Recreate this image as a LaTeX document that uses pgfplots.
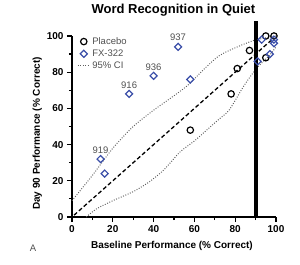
\documentclass[border=0pt]{standalone}
\usepackage{pgfplots}
\pgfplotsset{compat=1.18}
\usepackage{fontspec}
\setmainfont{Liberation Sans}
\definecolor{fxblue}{RGB}{58,78,168}
\definecolor{cigray}{RGB}{95,95,95}
\definecolor{lblgray}{RGB}{80,80,80}
\pgfplotsset{
 markleg/.style={legend image code/.code={\draw[mark repeat=2,mark phase=2,##1] plot coordinates {(0pt,0pt)(6pt,0pt)(12pt,0pt)};}},
 lineleg/.style={legend image code/.code={\draw[##1] (0pt,0pt) -- (12pt,0pt);}},
}
\begin{document}
\begin{tikzpicture}
\useasboundingbox (-72pt,-48pt) rectangle (228pt,217pt);
\begin{axis}[
 scale only axis, width=204pt, height=181pt,
 xmin=0,xmax=100,ymin=0,ymax=100,
 axis x line*=bottom, axis y line*=left,
 axis line style={line width=1.2pt},
 tick align=outside,
 xtick={0,20,...,100}, ytick={0,20,...,100},
 minor xtick={10,30,...,90}, minor ytick={10,30,...,90},
 major tick length=5pt, minor tick length=3pt,
 tick style={line width=1.2pt, black},
 ticklabel style={font=\fontsize{10}{12}\selectfont\bfseries},
 /pgf/number format/assume math mode=true,
 clip=false,
 every axis title shift=0pt,
 title={Word Recognition in Quiet},
 title style={font=\fontsize{13}{15}\selectfont\bfseries, at={(axis description cs:0.497,1.143)}, anchor=center},
 xlabel={Baseline Performance (\% Correct)},
 xlabel style={font=\fontsize{10}{12}\selectfont\bfseries, at={(axis description cs:0.49,-0.157)}, anchor=center},
 ylabel={Day 90 Performance (\% Correct)},
 ylabel style={font=\fontsize{10}{12}\selectfont\bfseries, at={(axis description cs:-0.17,0.461)}, anchor=center},
 legend style={draw=none, fill=none, at={(axis description cs:0.02,1.01)}, anchor=north west,
   font=\fontsize{9.5}{10}\selectfont, text=lblgray, row sep=0pt, inner sep=1pt},
 legend cell align=left,
]
% Placebo
\addplot[only marks, mark=o, mark size=3.2pt, mark options={line width=1.2pt, black}, markleg]
 coordinates {(58,48)(78,68)(81,82)(87,92)(95,88)(95,100)(99,100)};
\addlegendentry{Placebo}
% FX-322
\addplot[only marks, mark=square, mark size=2.5pt, mark options={rotate=45, line width=1.2pt, fxblue}, markleg]
 coordinates {(14,32)(16,24)(28,68)(40,78)(52,94)(58,76)(91,86)(93,98)(97,90)(99,96)(99,98)};
\addlegendentry{FX-322}
% 95% CI upper
\addplot[cigray, line width=1pt, dash pattern=on 0.9pt off 1.6pt, smooth, tension=0.4, lineleg]
 coordinates {(0,9)(10,23)(20,38)(30,50)(40,59)(50,67)(57,73)(65,82)(72,89)(80,93.5)(89,97.5)(95,99)(100,100)};
\addlegendentry{95\% CI}
% 95% CI lower
\addplot[cigray, line width=1pt, dash pattern=on 0.9pt off 1.6pt, smooth, tension=0.4, forget plot]
 coordinates {(7,0)(12,4.5)(20,9)(30,14)(38,19.5)(45,26)(53,36)(60,42)(66,48)(72,54)(77,59)(84,72)(88,78.5)(92,84)(97,89.5)(100,94)};
% identity line
\addplot[black, line width=1.3pt, dash pattern=on 4pt off 2.5pt, forget plot]
 coordinates {(1,1)(99,99)};
% threshold line
\addplot[black, line width=4pt, forget plot] coordinates {(90,0)(90,108.5)};
% point labels
\node[font=\fontsize{9.5}{10}\selectfont, text=lblgray, anchor=south] at (axis cs:14,33) {919};
\node[font=\fontsize{9.5}{10}\selectfont, text=lblgray, anchor=south] at (axis cs:28,69) {916};
\node[font=\fontsize{9.5}{10}\selectfont, text=lblgray, anchor=south] at (axis cs:40,79) {936};
\node[font=\fontsize{9.5}{10}\selectfont, text=lblgray, anchor=south] at (axis cs:52,95.5) {937};
\end{axis}
\node[font=\fontsize{9.5}{10}\selectfont, text=lblgray] at (-39pt,-31pt) {A};
\end{tikzpicture}
\end{document}
